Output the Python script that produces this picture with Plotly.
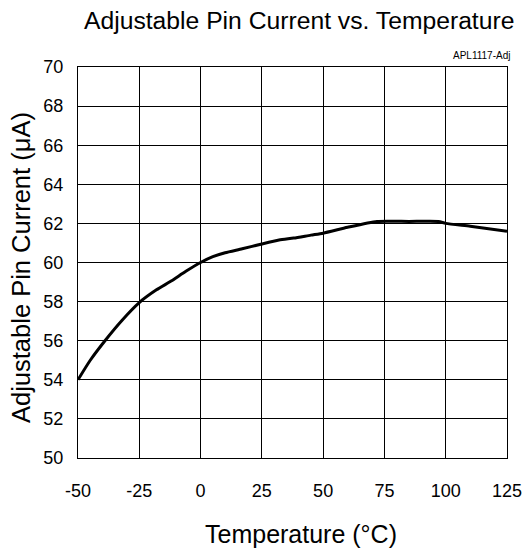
import plotly.graph_objects as go

temperature = [-50, -45, -39, -32, -25, -18, -12, -6, 0, 5, 10, 17, 25, 32, 38, 45, 50, 60, 72, 85, 97, 100, 110, 125]
current = [54.0, 55.0, 56.0, 57.05, 57.95, 58.6, 59.05, 59.55, 60.0, 60.3, 60.5, 60.7, 60.95, 61.15, 61.25, 61.4, 61.5, 61.8, 62.1, 62.1, 62.1, 62.0, 61.85, 61.6]

x_ticks = [-50, -25, 0, 25, 50, 75, 100, 125]
x_tick_text = ["-50", "-25", "0", "25", "50", "75", "100", "125"]
y_ticks = [50, 52, 54, 56, 58, 60, 62, 64, 66, 68, 70]

FONT = "Liberation Sans, Arial, sans-serif"

# page body has an 8px margin; target pixel positions are in window coordinates
OFF = 8
PL, PR, PT, PB = 78, 507, 67, 458  # plot area in window pixels
W, H = 530 - OFF, 549 - OFF

fig = go.Figure()
fig.add_trace(go.Scatter(x=temperature, y=current, mode="lines",
                         line=dict(color="black", width=3, shape="spline", smoothing=0.6),
                         showlegend=False, hoverinfo="skip"))

pw, ph = PR - PL, PB - PT
fig.update_layout(
    width=W, height=H,
    margin=dict(l=PL - OFF, r=W + OFF - PR, t=PT - OFF, b=H + OFF - PB, pad=0),
    paper_bgcolor="white", plot_bgcolor="white",
    font=dict(family=FONT, color="black"),
    annotations=[
        dict(text="Adjustable Pin Current vs. Temperature", xref="paper", yref="paper",
             x=(299 - PL) / pw, xanchor="center", y=1, yanchor="middle", yshift=PT - 20,
             showarrow=False, font=dict(size=24.7, family=FONT, color="black")),
        dict(text="APL1117-Adj", x=1, xref="paper", xanchor="right", xshift=5,
             y=1, yref="paper", yanchor="middle", yshift=12, showarrow=False,
             font=dict(size=10, family=FONT, color="black")),
        dict(text="Temperature (°C)", xref="paper", yref="paper", x=(301 - PL) / pw, xanchor="center",
             y=0, yanchor="middle", yshift=-(534 - PB), showarrow=False,
             font=dict(size=25, family=FONT, color="black")),
        dict(text="Adjustable Pin Current (μA)", xref="paper", yref="paper", x=0, xanchor="center",
             xshift=-(PL - 21), y=(PB - 268) / ph, yanchor="middle", textangle=-90, showarrow=False,
             font=dict(size=25.5, family=FONT, color="black")),
    ],
)
fig.update_xaxes(range=[-50, 125], tickvals=x_ticks, ticktext=x_tick_text, showgrid=True,
                 gridcolor="black", gridwidth=1, automargin=False,
                 showline=True, linecolor="black", linewidth=1, mirror=True, zeroline=False,
                 ticks="", tickfont=dict(size=18, family=FONT), ticklabelstandoff=16)
fig.update_yaxes(range=[50, 70], tickvals=y_ticks, showgrid=True, gridcolor="black", gridwidth=1,
                 automargin=False,
                 showline=True, linecolor="black", linewidth=1, mirror=True, zeroline=False,
                 ticks="", tickfont=dict(size=18, family=FONT), ticklabelstandoff=10)

fig.write_html("out.html")
